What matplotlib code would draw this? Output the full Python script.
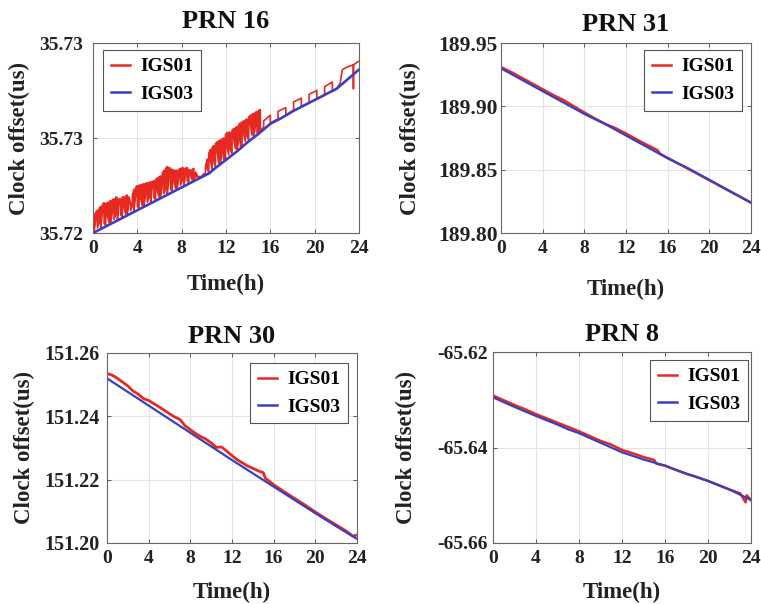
import matplotlib
matplotlib.use("Agg")
import matplotlib.pyplot as plt

plt.rcParams['font.family'] = ['Liberation Serif', 'DejaVu Serif']
plt.rcParams['font.weight'] = 'bold'

# ---- PRN 16 ----
blue16_t = [0, 1, 2, 3, 4, 5, 6, 7, 8, 9, 10, 10.5, 11, 12, 13, 14, 15, 16, 17, 18,
            19, 20, 21, 22, 22.5, 23, 24]
blue16_v = [35.72000, 35.72030, 35.72060, 35.72090, 35.72120, 35.72150, 35.72180,
            35.72210, 35.72240, 35.72270, 35.72300, 35.72315, 35.72340, 35.72385,
            35.72430, 35.72480, 35.72525, 35.72575, 35.72605, 35.72640, 35.72670,
            35.72700, 35.72730, 35.72760, 35.72785, 35.72810, 35.72860]

# IGS01 jumps up and down a lot: time of each jump, top and bottom of the jump
spike16_t = [0.10, 0.25, 0.40, 0.55, 0.70, 0.85, 1.00, 1.15, 1.30, 1.45,
             1.60, 1.75, 1.90, 2.05, 2.20, 2.35, 2.50, 2.65, 2.80, 2.95,
             3.10, 3.25, 3.40, 3.55, 3.70, 3.85, 4.00, 4.15, 4.30, 4.45,
             4.60, 4.75, 4.90, 5.05, 5.20, 5.35, 5.50, 5.65, 5.80, 5.95,
             6.10, 6.25, 6.40, 6.55, 6.70, 6.85, 7.00, 7.15, 7.30, 7.45,
             7.60, 7.75, 7.90, 8.05, 8.20, 8.35, 8.50, 8.65, 8.80, 8.95,
             9.10, 9.25, 9.40, 9.55, 9.70, 9.85, 10.00, 10.15, 10.30, 10.45,
             10.60, 10.75, 10.90, 11.05, 11.20, 11.35, 11.50, 11.65, 11.80, 11.95,
             12.10, 12.25, 12.40, 12.55, 12.70, 12.85, 13.00, 13.15, 13.30, 13.45,
             13.60, 13.75, 13.90, 14.05, 14.20, 14.35, 14.50, 14.65, 14.80, 14.95,
             15.10, 15.4, 16.0, 16.7, 17.4, 18.1, 18.8, 19.5, 20.2, 20.9, 21.6]
spike16_top = [35.72100, 35.72110, 35.72120, 35.72130, 35.72140, 35.72150, 35.72160, 35.72155, 35.72160, 35.72165,
               35.72170, 35.72175, 35.72180, 35.72190, 35.72185, 35.72180, 35.72180, 35.72190, 35.72190, 35.72195,
               35.72200, 35.72190, 35.72155, 35.72200, 35.72230, 35.72240, 35.72250, 35.72250, 35.72255, 35.72255,
               35.72260, 35.72260, 35.72265, 35.72265, 35.72270, 35.72270, 35.72275, 35.72280, 35.72290, 35.72295,
               35.72300, 35.72315, 35.72330, 35.72340, 35.72350, 35.72345, 35.72340, 35.72335, 35.72330, 35.72330,
               35.72330, 35.72335, 35.72340, 35.72345, 35.72340, 35.72340, 35.72345, 35.72335, 35.72330, 35.72335,
               35.72340, 35.72320, 35.72305, 35.72298, 35.72298, 35.72302, 35.72312, 35.72350, 35.72390, 35.72420,
               35.72440, 35.72450, 35.72460, 35.72470, 35.72480, 35.72485, 35.72490, 35.72495, 35.72500, 35.72515,
               35.72530, 35.72530, 35.72530, 35.72540, 35.72550, 35.72555, 35.72560, 35.72570, 35.72580, 35.72585,
               35.72590, 35.72595, 35.72600, 35.72610, 35.72620, 35.72625, 35.72630, 35.72635, 35.72640, 35.72645,
               35.72650, 35.72590, 35.72620, 35.72640, 35.72660, 35.72690, 35.72710, 35.72730, 35.72750, 35.72770,
               35.72795]
spike16_bot = [35.72008, 35.72068, 35.72027, 35.72052, 35.72026, 35.72106, 35.72050, 35.72040, 35.72089, 35.72054,
               35.72053, 35.72113, 35.72072, 35.72097, 35.72071, 35.72151, 35.72095, 35.72085, 35.72134, 35.72099,
               35.72098, 35.72158, 35.72117, 35.72142, 35.72116, 35.72196, 35.72140, 35.72130, 35.72179, 35.72144,
               35.72143, 35.72203, 35.72162, 35.72187, 35.72161, 35.72241, 35.72185, 35.72175, 35.72224, 35.72189,
               35.72188, 35.72248, 35.72207, 35.72232, 35.72206, 35.72286, 35.72230, 35.72220, 35.72269, 35.72234,
               35.72233, 35.72293, 35.72252, 35.72277, 35.72251, 35.72301, 35.72275, 35.72265, 35.72304, 35.72279,
               35.72278, 35.72298, 35.72292, 35.72290, 35.72293, 35.72297, 35.72303, 35.72310, 35.72339, 35.72319,
               35.72380, 35.72333, 35.72375, 35.72347, 35.72429, 35.72366, 35.72368, 35.72420, 35.72386, 35.72388,
               35.72450, 35.72411, 35.72438, 35.72415, 35.72497, 35.72443, 35.72435, 35.72487, 35.72455, 35.72457,
               35.72520, 35.72482, 35.72510, 35.72487, 35.72569, 35.72516, 35.72507, 35.72559, 35.72526, 35.72527,
               35.72535, 35.72560, 35.72580, 35.72600, 35.72620, 35.72645, 35.72665, 35.72685, 35.72705, 35.72725,
               35.72745]
tail16_t = [22.0, 22.3, 22.5, 23.0, 23.5, 23.5, 23.5, 24.0]
tail16_v = [35.72760, 35.72790, 35.72860, 35.72875, 35.72885, 35.72760, 35.72885, 35.72905]

# ---- PRN 31 ----
red31_t = [0, 1, 2, 3, 4, 5, 6, 7, 8, 9, 10, 11, 12, 13, 14, 15, 15.3, 16, 17, 18,
           19, 20, 21, 22, 23, 24]
red31_v = [189.9310, 189.9270, 189.9225, 189.9180, 189.9135, 189.9090, 189.9050,
           189.9000, 189.8952, 189.8905, 189.8862, 189.8828, 189.8785, 189.8740,
           189.8697, 189.8655, 189.8625, 189.8593, 189.8549, 189.8505, 189.8461,
           189.8417, 189.8372, 189.8328, 189.8284, 189.8240]
blue31_t = [0, 2, 4, 6, 8, 10, 12, 14, 16, 18, 20, 22, 24]
blue31_v = [189.930, 189.921, 189.912, 189.903, 189.894, 189.886, 189.877, 189.868,
            189.859, 189.851, 189.842, 189.833, 189.824]

# ---- PRN 30 ----
red30_t = [0, 0.5, 1.0, 1.5, 2.0, 2.5, 3.0, 3.5, 4.0, 4.5, 5.0, 5.5, 6.0, 6.5, 7.0,
           7.5, 8.0, 8.5, 9.0, 9.5, 10.0, 10.5, 11.0, 11.5, 12.0, 12.5, 13.0, 13.5,
           14.0, 14.5, 15.0, 15.2, 16, 17, 18, 19, 20, 21, 22, 23, 23.6, 24]
red30_v = [151.2535, 151.2530, 151.2520, 151.2508, 151.2496, 151.2480, 151.2470,
           151.2456, 151.2450, 151.2440, 151.2430, 151.2419, 151.2408, 151.2398,
           151.2390, 151.2370, 151.2358, 151.2346, 151.2336, 151.2328, 151.2316,
           151.2302, 151.2303, 151.2290, 151.2276, 151.2263, 151.2253, 151.2243,
           151.2236, 151.2228, 151.2222, 151.2205, 151.2184, 151.2162, 151.2141,
           151.2120, 151.2098, 151.2077, 151.2057, 151.2037, 151.2022, 151.2025]
blue30_t = [0, 2, 4, 6, 8, 10, 12, 14, 16, 18, 20, 22, 24]
blue30_v = [151.2520, 151.2477, 151.2434, 151.2391, 151.2348, 151.2305, 151.2262,
            151.2220, 151.2178, 151.2136, 151.2094, 151.2053, 151.2013]

# ---- PRN 8 ----
red8_t = [0, 1, 2, 3, 4, 5, 6, 7, 8, 9, 10, 11, 12, 13, 14, 15, 15.2, 16, 17, 18,
          19, 20, 21, 22, 23, 23.5, 23.6, 24]
red8_v = [-65.6291, -65.6301, -65.6311, -65.6320, -65.6330, -65.6339, -65.6348,
          -65.6357, -65.6366, -65.6376, -65.6386, -65.6394, -65.6405, -65.6412,
          -65.6420, -65.6426, -65.6434, -65.6438, -65.6447, -65.6455, -65.6462,
          -65.6470, -65.6479, -65.6488, -65.6496, -65.6515, -65.6500, -65.6510]
blue8_t = [0, 2, 4, 6, 7, 8, 10, 12, 14, 16, 18, 20, 22, 24]
blue8_v = [-65.6295, -65.6315, -65.6334, -65.6352, -65.6362, -65.6370, -65.6390,
           -65.6410, -65.6425, -65.6438, -65.6455, -65.6470, -65.6488, -65.6510]

xticks = [0, 4, 8, 12, 16, 20, 24]
RED = '#e62a22'
BLUE = '#3a3fc2'
FIG_W, FIG_H = 761, 604


def spike_line(t, top, bot, start_t, start_v):
    xs, ys = [start_t], [start_v]
    for i in range(len(t)):
        pair = (top[i], bot[i]) if i % 2 == 0 else (bot[i], top[i])
        xs += [t[i], t[i]]
        ys += list(pair)
    return xs, ys


def style_axes(ax, title, ylim, yticks, yticklabels, legend_loc, legend_off,
               title_pad, xlabel_pad, ytick_pad, ylabel_pad=7, ytick_size=14):
    ax.set_xlim(0, 24)
    ax.set_ylim(*ylim)
    ax.set_xticks(xticks)
    ax.set_yticks(yticks)
    ax.set_yticklabels(yticklabels)
    ax.grid(True, color='#e3e3e3', linewidth=0.8)
    ax.set_axisbelow(True)
    ax.tick_params(direction='in', length=3, width=0.6, color='#444444',
                   top=True, right=True)
    ax.tick_params(axis='x', labelsize=14, pad=5)
    ax.tick_params(axis='y', labelsize=ytick_size, pad=ytick_pad)
    for lab in ax.get_xticklabels() + ax.get_yticklabels():
        lab.set_fontweight('bold')
        lab.set_color('#222222')
    for sp in ax.spines.values():
        sp.set_color('#666666')
        sp.set_linewidth(0.8)
    ax.set_title(title, fontsize=19, fontweight='bold', color='#111111', pad=title_pad)
    ax.set_xlabel('Time(h)', fontsize=16.5, fontweight='bold', color='#222222',
                  labelpad=xlabel_pad)
    ax.set_ylabel('Clock offset(us)', fontsize=16.5, fontweight='bold', color='#222222',
                  labelpad=ylabel_pad)
    pos = ax.get_position()
    dx = legend_off[0] / (pos.width * FIG_W)
    dy = legend_off[1] / (pos.height * FIG_H)
    anchor = (dx, 1 - dy) if legend_loc == 'upper left' else (1 - dx, 1 - dy)
    leg = ax.legend(loc=legend_loc, bbox_to_anchor=anchor, borderaxespad=0,
                    handlelength=1.0, fancybox=False, framealpha=1,
                    edgecolor='#555555', borderpad=0.4, labelspacing=0.5,
                    handletextpad=0.5, prop={'weight': 'bold', 'size': 14})
    leg.get_frame().set_linewidth(0.8)
    for h in leg.legend_handles:
        h.set_linewidth(1.8)


fig = plt.figure(figsize=(7.61, 6.04), dpi=100)

# PRN 16
ax1 = fig.add_axes([0.1222, 0.6142, 0.3495, 0.3146])
rx, ry = spike_line(spike16_t, spike16_top, spike16_bot, 0, 35.72000)
ax1.plot(rx + tail16_t, ry + tail16_v, color=RED, linewidth=1.2, label='IGS01')
ax1.plot(blue16_t, blue16_v, color=BLUE, linewidth=1.9, label='IGS03')
style_axes(ax1, 'PRN 16', (35.72, 35.73), [35.720, 35.725, 35.730],
           ['35.72', '35.73', '35.73'], 'upper left', (10, 7),
           title_pad=11, xlabel_pad=12, ytick_pad=7)

# PRN 31
ax2 = fig.add_axes([0.6583, 0.6142, 0.3285, 0.3146])
ax2.plot(red31_t, red31_v, color=RED, linewidth=1.8, label='IGS01')
ax2.plot(blue31_t, blue31_v, color=BLUE, linewidth=1.6, label='IGS03')
style_axes(ax2, 'PRN 31', (189.80, 189.95), [189.80, 189.85, 189.90, 189.95],
           ['189.80', '189.85', '189.90', '189.95'], 'upper right', (9, 7),
           title_pad=9, xlabel_pad=16, ytick_pad=2.5, ylabel_pad=12, ytick_size=15.5)

# PRN 30
ax3 = fig.add_axes([0.1406, 0.1010, 0.3285, 0.3146])
ax3.plot(red30_t, red30_v, color=RED, linewidth=2.0, label='IGS01')
ax3.plot(blue30_t, blue30_v, color=BLUE, linewidth=1.6, label='IGS03')
style_axes(ax3, 'PRN 30', (151.20, 151.26), [151.20, 151.22, 151.24, 151.26],
           ['151.20', '151.22', '151.24', '151.26'], 'upper right', (9, 10),
           title_pad=7, xlabel_pad=11, ytick_pad=5, ytick_size=14.5)

# PRN 8
ax4 = fig.add_axes([0.6478, 0.1010, 0.3390, 0.3162])
ax4.plot(red8_t, red8_v, color=RED, linewidth=1.8, label='IGS01')
ax4.plot(blue8_t, blue8_v, color=BLUE, linewidth=1.6, label='IGS03')
style_axes(ax4, 'PRN 8', (-65.66, -65.62), [-65.66, -65.64, -65.62],
           ['-65.66', '-65.64', '-65.62'], 'upper right', (3, 8),
           title_pad=8, xlabel_pad=11, ytick_pad=4, ylabel_pad=14)

fig.savefig('out.png', dpi=100)
